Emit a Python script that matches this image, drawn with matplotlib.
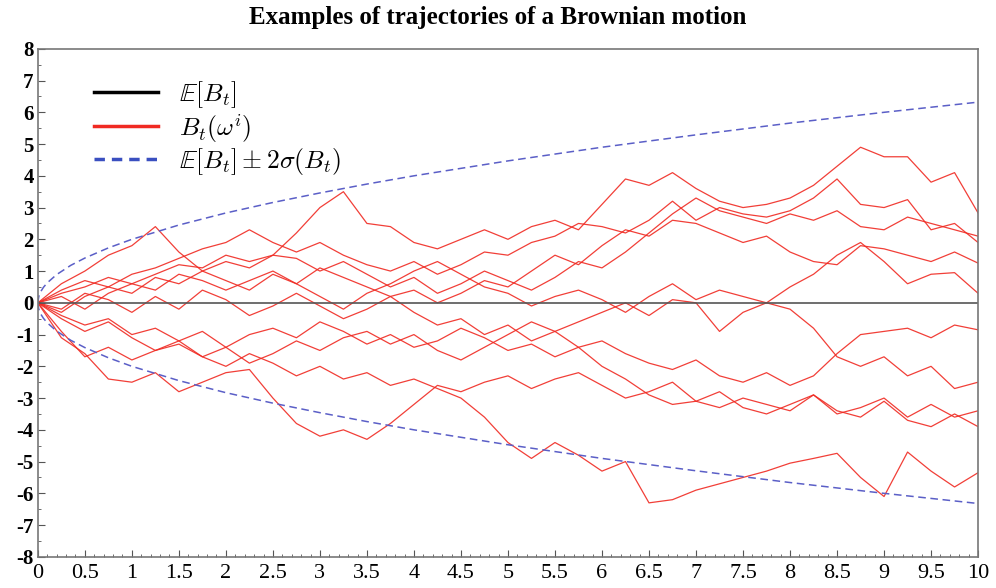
import numpy as np
import matplotlib
matplotlib.use('Agg')
import matplotlib.pyplot as plt
from matplotlib.lines import Line2D
from matplotlib.ticker import MultipleLocator

# temps (pas de 0.25)
t = np.arange(41) * 0.25

# trajectoires
p1 = [0, 0.6, 1.0, 1.5, 1.8, 2.4, 1.6, 1.0, 1.3, 1.1, 1.5, 1.4, 1.0, 1.3, 0.9, 0.5, 0.8, 0.3, 0.6, 1.0,
      0.7, 0.4, 0.8, 1.3, 1.1, 1.6, 2.2, 2.8, 3.3, 2.9, 2.7, 2.5, 2.8, 2.6, 2.9, 2.4, 2.3, 2.7, 2.5, 2.3, 2.1]
p2 = [0, 0.3, 0.5, 0.8, 0.6, 0.9, 1.2, 1.1, 1.5, 1.3, 1.5, 2.2, 3.0, 3.5, 2.5, 2.4, 1.9, 1.7, 2.0, 2.3,
      2.0, 2.4, 2.6, 2.3, 3.1, 3.9, 3.7, 4.1, 3.6, 3.2, 3.0, 3.1, 3.3, 3.7, 4.3, 4.9, 4.6, 4.6, 3.8, 4.1, 2.83]
p3 = [0, 0.4, 0.7, 0.5, 0.9, 1.1, 1.4, 1.7, 1.9, 2.3, 1.9, 1.6, 1.9, 1.5, 1.2, 1.0, 1.3, 0.9, 1.2, 1.6,
      1.5, 1.9, 2.1, 2.5, 2.4, 2.2, 2.6, 3.2, 2.6, 3.0, 2.8, 2.7, 2.9, 3.3, 3.9, 3.1, 3.0, 3.25, 2.3, 2.5, 1.9]
p4 = [0, -0.3, 0.2, 0.5, 0.3, 0.8, 0.6, 1.0, 0.7, 0.4, 0.9, 0.6, 1.1, 0.8, 0.5, 0.2, 0.4, 0.0, 0.3, 0.7,
      0.5, 1.0, 1.5, 1.2, 1.8, 2.3, 2.1, 2.6, 2.5, 2.2, 1.9, 2.1, 1.6, 1.3, 1.2, 1.8, 1.7, 1.5, 1.3, 1.6, 1.25]
p5 = [0, 0.2, -0.2, 0.3, 0.6, 0.4, 0.9, 0.7, 0.4, 0.7, 1.0, 0.6, 0.2, -0.2, 0.3, 0.6, 1.0, 1.3, 0.9, 0.5,
      0.3, -0.1, 0.2, 0.4, 0.1, -0.3, 0.2, 0.6, 0.1, 0.4, 0.2, 0.0, 0.5, 0.9, 1.5, 1.9, 1.3, 0.6, 0.9, 0.95, 0.3]
p6 = [0, -0.4, -0.7, -0.5, -1.0, -0.8, -1.2, -0.9, -1.4, -1.0, -0.8, -1.1, -0.6, -0.9, -1.3, -1.0, -1.4, -1.2, -0.8, -1.1,
      -1.5, -1.3, -1.7, -1.4, -1.2, -1.6, -1.9, -2.1, -1.8, -2.3, -2.5, -2.2, -2.6, -2.3, -1.6, -1.0, -0.9, -0.8, -1.1, -0.7, -0.85]
p7 = [0, -0.2, 0.3, 0.1, -0.3, 0.2, -0.2, 0.4, 0.1, -0.4, -0.1, 0.3, -0.1, -0.5, -0.2, 0.2, -0.3, -0.7, -0.5, -1.0,
      -0.7, -1.2, -0.9, -0.6, -0.3, 0.0, -0.4, 0.1, 0.0, -0.9, -0.3, 0.0, -0.2, -0.8, -1.7, -2.0, -1.7, -2.3, -2.0, -2.7, -2.5]
p8 = [0, -0.9, -1.7, -1.4, -1.8, -1.5, -1.3, -1.7, -1.4, -1.9, -1.6, -1.2, -1.5, -1.1, -0.9, -1.3, -1.0, -1.5, -1.8, -1.4,
      -1.0, -0.6, -0.9, -1.4, -2.0, -2.4, -2.9, -3.2, -3.1, -2.8, -3.3, -3.5, -3.2, -2.9, -3.4, -3.6, -3.1, -3.7, -3.9, -3.5, -3.9]
p9 = [0, -1.1, -1.6, -2.4, -2.5, -2.2, -2.8, -2.5, -2.2, -2.1, -3.0, -3.8, -4.2, -4.0, -4.3, -3.8, -3.2, -2.6, -2.8, -2.5,
      -2.3, -2.7, -2.4, -2.2, -2.6, -3.0, -2.8, -2.5, -3.1, -3.3, -3.0, -3.2, -3.4, -2.9, -3.5, -3.3, -3.0, -3.6, -3.2, -3.6, -3.4]
p10 = [0, -0.5, -0.9, -0.6, -1.1, -1.5, -1.2, -1.7, -2.0, -1.6, -1.9, -2.3, -2.0, -2.4, -2.2, -2.6, -2.4, -2.7, -3.0, -3.6,
       -4.4, -4.9, -4.4, -4.8, -5.3, -5.0, -6.3, -6.2, -5.9, -5.7, -5.5, -5.3, -5.05, -4.9, -4.74, -5.5, -6.1, -4.7, -5.3, -5.8, -5.35]
trajectoires = [p1, p2, p3, p4, p5, p6, p7, p8, p9, p10]

# enveloppe +/- 2 sigma
t_env = [0, 0.01, 0.03, 0.06, 0.1, 0.2, 0.35, 0.5, 0.75, 1, 1.5, 2, 2.5, 3, 3.5, 4, 5, 6, 7, 8, 9, 10]
env = [0, 0.2, 0.35, 0.49, 0.63, 0.89, 1.18, 1.41, 1.73, 2.0, 2.45, 2.83, 3.16, 3.46, 3.74, 4.0,
       4.47, 4.9, 5.29, 5.66, 6.0, 6.32]

plt.rcParams['mathtext.fontset'] = 'cm'

fig = plt.figure(figsize=(9.96, 5.88), dpi=100)
ax = fig.add_axes([0.038, 0.053, 0.944, 0.864])

rouge = '#f02a22'
bleu = '#5b5fc7'
for p in trajectoires:
    ax.plot(t, p, color=rouge, lw=0.9, alpha=0.9)
ax.axhline(0, color='#555555', lw=1.2)
ax.plot(t_env, env, color=bleu, lw=1.1, ls=(0, (5, 3)))
ax.plot(t_env, [-v for v in env], color=bleu, lw=1.1, ls=(0, (5, 3)))

ax.set_xlim(0, 10)
ax.set_ylim(-8, 8)
ax.xaxis.set_minor_locator(MultipleLocator(0.1))
ax.yaxis.set_minor_locator(MultipleLocator(0.5))
xt = np.arange(0, 10.01, 0.5)
ax.set_xticks(xt)
ax.set_xticklabels(['%g' % v for v in xt], family='Liberation Serif', fontsize=16)
yt = np.arange(-8, 9, 1)
ax.set_yticks(yt)
ax.set_yticklabels(['%d' % v for v in yt], family='Liberation Serif', fontsize=15, fontweight='bold')
ax.tick_params(axis='both', which='both', direction='in', color='#555555')
ax.tick_params(axis='both', which='major', length=5)
ax.tick_params(axis='x', which='major', pad=5)
ax.tick_params(axis='y', which='major', pad=3)
ax.tick_params(axis='both', which='minor', length=2.5)
for s in ax.spines.values():
    s.set_color('#777777')
    s.set_linewidth(1.2)

handles = [Line2D([], [], color='black', lw=2.5),
           Line2D([], [], color=rouge, lw=2.5),
           Line2D([], [], color='#3a4fc0', lw=2.5, ls=(0, (3, 2)))]
labels = [r'$\mathbb{E}[B_t]$', r'$B_t(\omega^i)$', r'$\mathbb{E}[B_t] \pm 2\sigma(B_t)$']
ax.legend(handles, labels, loc='upper left', bbox_to_anchor=(0.035, 0.985), frameon=False,
          fontsize=18.5, handlelength=2.5, labelspacing=0.05, handletextpad=0.8)

fig.suptitle('Examples of trajectories of a Brownian motion', family='Liberation Serif',
             fontweight='bold', fontsize=18, y=0.99)

plt.savefig('out.png', dpi=100)
